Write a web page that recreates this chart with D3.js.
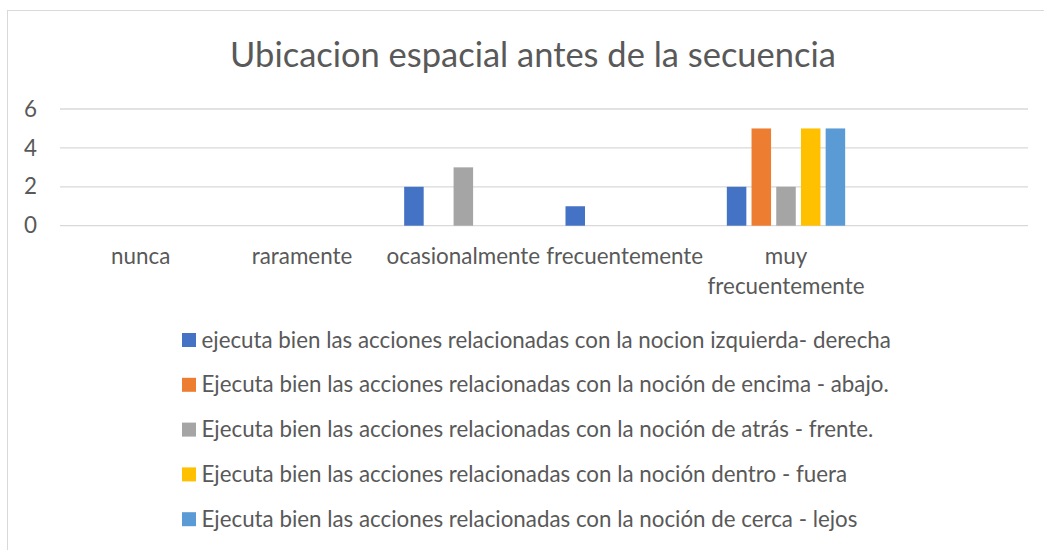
<!DOCTYPE html>
<html>
<head>
<meta charset="utf-8">
<script src="https://cdn.jsdelivr.net/npm/d3@7"></script>
<style>
  html, body { margin: 0; padding: 0; background: #fff; }
  svg { display: block; }
  text { font-family: Lato, "Open Sans", sans-serif; fill: #595959; }
</style>
</head>
<body>
<svg id="chart" width="1044" height="550"></svg>
<script>
/* data */
const categories = ['nunca', 'raramente', 'ocasionalmente', 'frecuentemente', 'muy frecuentemente', ''];
const seriesNames = [
  'ejecuta bien las acciones relacionadas con la nocion izquierda- derecha',
  'Ejecuta bien las acciones relacionadas con la noción de encima - abajo.',
  'Ejecuta bien las acciones relacionadas con la noción de atrás - frente.',
  'Ejecuta bien las acciones relacionadas con la noción dentro - fuera',
  'Ejecuta bien las acciones relacionadas con la noción de cerca - lejos',
];
const izquierdaDerecha = [0, 0, 2, 1, 2, null];
const encimaAbajo = [0, 0, 0, 0, 5, null];
const atrasFrente = [0, 0, 3, 0, 2, null];
const dentroFuera = [0, 0, 0, 0, 5, null];
const cercaLejos = [0, 0, 0, 0, 5, null];
const seriesValues = [izquierdaDerecha, encimaAbajo, atrasFrente, dentroFuera, cercaLejos];
const seriesColors = ['#4472C4', '#ED7D31', '#A5A5A5', '#FFC000', '#5B9BD5'];
const yTicks = [0, 2, 4, 6];
const title = 'Ubicacion espacial antes de la secuencia';

/* layout */
const plot = { left: 60, right: 1028, top: 109, bottom: 225.7 };
const gridColor = '#d9d9d9';

const svg = d3.select('#chart');

// font size so that a string spans a given width
function fitSize(str, targetWidth) {
  const t = svg.append('text').style('font-size', '100px').text(str);
  const w = t.node().getComputedTextLength();
  t.remove();
  return 100 * targetWidth / w;
}
const titleSize = fitSize(title, 606);
const labelSize = fitSize('frecuentemente', 157);
const legendSize = fitSize(seriesNames[0], 690);

/* chart area border */
svg.append('rect')
  .attr('x', 7.5).attr('y', 10.5)
  .attr('width', 1060).attr('height', 600)
  .attr('fill', 'none')
  .attr('stroke', gridColor)
  .attr('stroke-width', 1);

/* title */
svg.append('text')
  .attr('x', 533).attr('y', 67)
  .attr('text-anchor', 'middle')
  .style('font-size', `${titleSize}px`)
  .text(title);

/* scales */
const x = d3.scaleBand().domain(categories).range([plot.left, plot.right]).padding(0);
const xInner = d3.scaleBand()
  .domain(d3.range(seriesNames.length))
  .range([0, x.bandwidth()])
  .paddingInner(0.21)
  .paddingOuter(0.87);
const y = d3.scaleLinear().domain([0, 6]).range([plot.bottom, plot.top]);

/* gridlines */
svg.append('g')
  .selectAll('line')
  .data(yTicks)
  .join('line')
  .attr('x1', plot.left).attr('x2', plot.right)
  .attr('y1', (d) => y(d)).attr('y2', (d) => y(d))
  .attr('stroke', gridColor)
  .attr('stroke-width', 1.3);

/* y axis labels */
svg.append('g')
  .selectAll('text')
  .data(yTicks)
  .join('text')
  .attr('x', 37)
  .attr('y', (d) => y(d) + labelSize * 0.34)
  .attr('text-anchor', 'end')
  .style('font-size', `${labelSize}px`)
  .text((d) => d);

/* bars */
const groups = svg.append('g')
  .selectAll('g')
  .data(seriesValues)
  .join('g')
  .attr('fill', (d, i) => seriesColors[i]);

groups.each(function drawSeries(vals, si) {
  d3.select(this)
    .selectAll('rect')
    .data(categories.map((c, ci) => ({ c, v: vals[ci] })).filter((d) => d.v))
    .join('rect')
    .attr('x', (d) => x(d.c) + xInner(si))
    .attr('width', xInner.bandwidth())
    .attr('y', (d) => y(d.v))
    .attr('height', (d) => y(0) - y(d.v));
});

/* category labels, wrapped to the band width */
const lineHeight = 29.5;
const catLabels = svg.append('g')
  .selectAll('text')
  .data(categories)
  .join('text')
  .attr('x', (d) => x(d) + x.bandwidth() / 2)
  .attr('y', 264)
  .attr('text-anchor', 'middle')
  .style('font-size', `${labelSize}px`);

catLabels.each(function wrap(d) {
  const el = d3.select(this);
  const cx = x(d) + x.bandwidth() / 2;
  el.text(d);
  if (this.getComputedTextLength() <= x.bandwidth()) return;
  el.text(null);
  const words = d.split(' ');
  let line = [];
  let tspan = el.append('tspan').attr('x', cx).attr('dy', 0);
  words.forEach((w) => {
    line.push(w);
    tspan.text(line.join(' '));
    if (tspan.node().getComputedTextLength() > x.bandwidth() && line.length > 1) {
      line.pop();
      tspan.text(line.join(' '));
      line = [w];
      tspan = el.append('tspan').attr('x', cx).attr('dy', lineHeight).text(w);
    }
  });
});

/* legend */
const legend = svg.append('g')
  .selectAll('g')
  .data(seriesNames)
  .join('g')
  .attr('transform', (d, i) => `translate(182,${340 + i * 44.8})`);

legend.append('rect')
  .attr('x', 0).attr('y', -7)
  .attr('width', 14).attr('height', 14)
  .attr('fill', (d, i) => seriesColors[i]);

legend.append('text')
  .attr('x', 19.5)
  .attr('y', 7.5)
  .style('font-size', `${legendSize}px`)
  .text((d) => d);
</script>
</body>
</html>
